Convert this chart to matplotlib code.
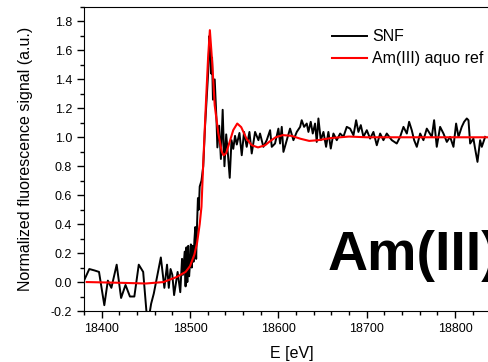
import matplotlib
matplotlib.use("Agg")
import matplotlib.pyplot as plt
from matplotlib.ticker import MultipleLocator

plt.rcParams['font.family'] = ['Liberation Sans', 'DejaVu Sans']

# SNF spectrum (energy in eV, normalized signal)
snf_e = [18380, 18386, 18392, 18397, 18403, 18407, 18411, 18417, 18422, 18427,
         18432, 18437, 18442, 18447, 18452, 18456, 18459, 18467, 18471, 18474,
         18476, 18478, 18480, 18482, 18486, 18489, 18491, 18492, 18494, 18495,
         18496, 18497, 18498, 18499, 18500, 18501, 18502, 18503, 18504, 18505,
         18506, 18507, 18508, 18509, 18510, 18511, 18513, 18515, 18517, 18519,
         18521, 18522, 18523, 18524, 18525, 18526, 18528, 18530, 18531, 18533,
         18535, 18537, 18539, 18541, 18543, 18545, 18547, 18549, 18551, 18553,
         18556, 18558.6, 18561.2, 18564.2, 18567.3, 18569.9, 18573.7, 18577.5, 18579.3, 18583.1,
         18586.9, 18590.7, 18592.6, 18596.3, 18600.1, 18602.0, 18603.9, 18605.8, 18609.6, 18613.3,
         18617.1, 18620.9, 18624.7, 18626.5, 18629.2, 18632.2, 18634.1, 18636.7, 18639.0, 18641.6,
         18643.5, 18645.4, 18648.1, 18651.1, 18654.1, 18656.7, 18659.4, 18662.4, 18666.2, 18670.0,
         18673.7, 18677.5, 18681.3, 18685.1, 18688.1, 18690.7, 18693.4, 18696.4, 18700.2, 18703.9,
         18707.7, 18711.5, 18715.3, 18719.0, 18722.8, 18728.5, 18734.1, 18737.9, 18741.7, 18745.5,
         18748.1, 18751.1, 18753.8, 18756.8, 18760.6, 18764.3, 18768.1, 18773.8, 18776.4, 18779.4,
         18783.2, 18787.0, 18790.8, 18794.5, 18798.3, 18801.3, 18804.0, 18807.7, 18810.4, 18813.4,
         18815.3, 18817.2, 18820.9, 18822.8, 18825.5, 18828.5, 18830.4, 18834.2]
snf_y = [0.01, 0.09, 0.08, 0.07, -0.16, 0.01, -0.04, 0.12, -0.11, -0.02,
         -0.10, -0.10, 0.12, 0.07, -0.30, -0.15, -0.08, 0.17, -0.04, 0.12,
         -0.04, 0.09, 0.05, -0.09, 0.07, -0.07, 0.16, 0.05, 0.21, -0.03,
         0.24, 0.00, 0.25, 0.04, 0.12, 0.26, 0.10, 0.25, 0.14, 0.29,
         0.38, 0.16, 0.40, 0.58, 0.50, 0.66, 0.70, 0.80, 1.07, 1.28,
         1.49, 1.70, 1.62, 1.44, 1.55, 1.26, 1.40, 1.12, 0.93, 1.08,
         0.85, 1.19, 0.80, 1.02, 0.88, 0.72, 0.98, 0.92, 1.01, 0.95,
         1.03, 0.876, 1.037, 0.934, 1.037, 0.888, 1.037, 0.980, 1.026, 0.934,
         0.980, 1.049, 0.934, 0.957, 1.060, 0.957, 1.072, 0.899, 0.980, 1.060,
         0.980, 1.037, 1.072, 1.118, 1.072, 1.095, 1.037, 1.107, 1.026, 1.095,
         0.968, 1.130, 0.980, 1.037, 0.934, 1.037, 0.922, 1.026, 0.980, 1.026,
         1.003, 1.072, 1.060, 1.014, 1.118, 1.037, 1.084, 1.003, 1.049, 0.991,
         1.037, 0.945, 1.026, 0.980, 1.026, 0.980, 0.957, 1.003, 1.072, 1.026,
         1.107, 1.049, 0.980, 0.934, 1.026, 0.980, 1.060, 1.003, 1.118, 0.934,
         1.072, 1.026, 0.968, 1.003, 0.934, 1.095, 1.003, 1.072, 1.107, 1.130,
         1.118, 0.957, 0.991, 0.922, 0.830, 0.980, 0.934, 1.003]

# Am(III) aquo reference
ref_e = [18383, 18420, 18450, 18470, 18485, 18495, 18500, 18505, 18508, 18511,
         18513, 18515, 18518, 18520.5, 18522.5, 18525, 18528, 18532, 18536, 18538,
         18541, 18544, 18549, 18553.5, 18558, 18564, 18570, 18577, 18585, 18590,
         18597, 18605, 18615, 18625, 18635, 18645, 18660, 18680, 18700, 18750,
         18800, 18850]
ref_y = [0.0, -0.005, -0.01, 0.0, 0.035, 0.07, 0.11, 0.19, 0.27, 0.40,
         0.52, 0.82, 1.23, 1.55, 1.74, 1.53, 1.22, 1.03, 0.90, 0.875,
         0.89, 0.95, 1.05, 1.095, 1.07, 0.99, 0.945, 0.93, 0.945, 0.97,
         1.0, 1.015, 1.01, 0.99, 0.975, 0.98, 0.995, 1.005, 1.0, 1.0,
         1.0, 1.0]

fig = plt.figure(figsize=(4.89, 3.62), dpi=100)
ax = fig.add_axes([84 / 489, 1 - 311 / 362, 416 / 489, 304 / 362])

ax.plot(snf_e, snf_y, color='black', lw=1.4, label='SNF')
ax.plot(ref_e, ref_y, color='red', lw=1.5, label='Am(III) aquo ref')

ax.set_xlim(18380, 18851)
ax.set_ylim(-0.2, 1.9)
ax.xaxis.set_major_locator(MultipleLocator(100))
ax.xaxis.set_minor_locator(MultipleLocator(20))
ax.yaxis.set_major_locator(MultipleLocator(0.2))
ax.yaxis.set_minor_locator(MultipleLocator(0.1))
ax.yaxis.set_major_formatter(plt.FuncFormatter(lambda v, p: f"{v:.1f}"))
ax.tick_params(which='both', direction='out', labelsize=9, colors='black')
ax.tick_params(which='major', length=5, width=1)
ax.tick_params(which='minor', length=3, width=1)

ax.set_xlabel('E [eV]', fontsize=11.5, labelpad=8)
ax.set_ylabel('Normalized fluorescence signal (a.u.)', fontsize=11.5, labelpad=13)

ax.legend(loc='upper left', bbox_to_anchor=(0.597, 0.927), frameon=False,
          fontsize=11.5, handlelength=2.2, handletextpad=0.3,
          labelspacing=0.45, borderpad=0, borderaxespad=0)

fig.text(328 / 489, 1 - 270 / 362, 'Am(III)', fontsize=40, fontweight='bold',
         ha='left', va='baseline')

fig.savefig('out.png', dpi=100)
